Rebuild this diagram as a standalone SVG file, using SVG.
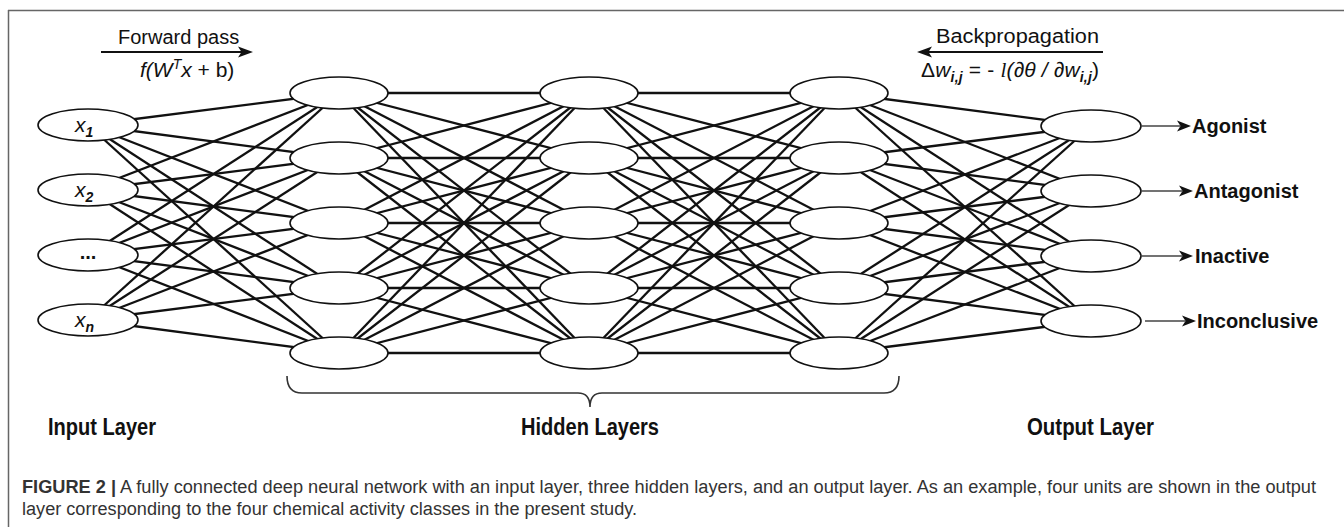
<svg xmlns="http://www.w3.org/2000/svg" width="1344" height="527" viewBox="0 0 1344 527">
<style>
.n{fill:#fff;stroke:#111;stroke-width:1.6}
.c line{stroke:#111;stroke-width:2.3}
.t{font-family:"Liberation Sans",Arial,sans-serif;fill:#111}
.lab{font-family:"Liberation Sans",Arial,sans-serif;font-size:20px;font-weight:bold;fill:#111}
.lay{font-family:"Liberation Sans",Arial,sans-serif;font-size:23px;font-weight:bold;fill:#111}
.var{font-family:"Liberation Sans",Arial,sans-serif;font-size:21px;font-style:italic;fill:#111}
.sub{font-size:14px;font-weight:bold}
.cap{font-family:"Liberation Sans",Arial,sans-serif;font-size:18px;fill:#333}
.ol{stroke:#444;stroke-width:1.6}
.ah{fill:#111}
</style>
<rect width="1344" height="527" fill="#fff"/>
<g id="frame" fill="none" stroke="#666" stroke-width="1.5">
<line x1="8" y1="10.5" x2="1344" y2="10.5"/>
<line x1="8.5" y1="10" x2="8.5" y2="527"/>
</g>
<g id="forward-pass">
<text class="t" x="118" y="44" font-size="20">Forward pass</text>
<line x1="101" y1="52" x2="242" y2="52" stroke="#111" stroke-width="2"/>
<polygon class="ah" points="253,52 238,46.5 241.5,52 238,57.5"/>
<text class="t" x="140" y="77" font-size="21"><tspan font-style="italic">f(W</tspan><tspan font-style="italic" font-size="14" dy="-8">T</tspan><tspan font-style="italic" dy="8">x</tspan> + b)</text>
</g>
<g id="backpropagation">
<text class="t" x="936" y="43" font-size="20" textLength="163" lengthAdjust="spacingAndGlyphs">Backpropagation</text>
<line x1="1103" y1="52" x2="928" y2="52" stroke="#111" stroke-width="2"/>
<polygon class="ah" points="917,52 932,46.5 928.5,52 932,57.5"/>
<text class="t" x="921" y="77" font-size="21" textLength="178" lengthAdjust="spacing">Δ<tspan font-style="italic">w</tspan><tspan font-style="italic" font-weight="bold" font-size="14" dy="5">i,j</tspan><tspan dy="-5"> = - </tspan><tspan font-style="italic" font-family="Liberation Serif, serif">l</tspan><tspan font-style="italic">(∂θ / ∂w</tspan><tspan font-style="italic" font-weight="bold" font-size="14" dy="5">i,j</tspan><tspan dy="-5">)</tspan></text>
</g>
<g id="connectors" class="c">
<line x1="88" y1="125" x2="339" y2="93"/><line x1="88" y1="125" x2="339" y2="158"/><line x1="88" y1="125" x2="339" y2="223"/><line x1="88" y1="125" x2="339" y2="288"/><line x1="88" y1="125" x2="339" y2="353"/>
<line x1="88" y1="190" x2="339" y2="93"/><line x1="88" y1="190" x2="339" y2="158"/><line x1="88" y1="190" x2="339" y2="223"/><line x1="88" y1="190" x2="339" y2="288"/><line x1="88" y1="190" x2="339" y2="353"/>
<line x1="88" y1="255" x2="339" y2="93"/><line x1="88" y1="255" x2="339" y2="158"/><line x1="88" y1="255" x2="339" y2="223"/><line x1="88" y1="255" x2="339" y2="288"/><line x1="88" y1="255" x2="339" y2="353"/>
<line x1="88" y1="320" x2="339" y2="93"/><line x1="88" y1="320" x2="339" y2="158"/><line x1="88" y1="320" x2="339" y2="223"/><line x1="88" y1="320" x2="339" y2="288"/><line x1="88" y1="320" x2="339" y2="353"/>
<line x1="339" y1="93" x2="589" y2="93"/><line x1="339" y1="93" x2="589" y2="158"/><line x1="339" y1="93" x2="589" y2="223"/><line x1="339" y1="93" x2="589" y2="288"/><line x1="339" y1="93" x2="589" y2="353"/>
<line x1="339" y1="158" x2="589" y2="93"/><line x1="339" y1="158" x2="589" y2="158"/><line x1="339" y1="158" x2="589" y2="223"/><line x1="339" y1="158" x2="589" y2="288"/><line x1="339" y1="158" x2="589" y2="353"/>
<line x1="339" y1="223" x2="589" y2="93"/><line x1="339" y1="223" x2="589" y2="158"/><line x1="339" y1="223" x2="589" y2="223"/><line x1="339" y1="223" x2="589" y2="288"/><line x1="339" y1="223" x2="589" y2="353"/>
<line x1="339" y1="288" x2="589" y2="93"/><line x1="339" y1="288" x2="589" y2="158"/><line x1="339" y1="288" x2="589" y2="223"/><line x1="339" y1="288" x2="589" y2="288"/><line x1="339" y1="288" x2="589" y2="353"/>
<line x1="339" y1="353" x2="589" y2="93"/><line x1="339" y1="353" x2="589" y2="158"/><line x1="339" y1="353" x2="589" y2="223"/><line x1="339" y1="353" x2="589" y2="288"/><line x1="339" y1="353" x2="589" y2="353"/>
<line x1="589" y1="93" x2="839" y2="93"/><line x1="589" y1="93" x2="839" y2="158"/><line x1="589" y1="93" x2="839" y2="223"/><line x1="589" y1="93" x2="839" y2="288"/><line x1="589" y1="93" x2="839" y2="353"/>
<line x1="589" y1="158" x2="839" y2="93"/><line x1="589" y1="158" x2="839" y2="158"/><line x1="589" y1="158" x2="839" y2="223"/><line x1="589" y1="158" x2="839" y2="288"/><line x1="589" y1="158" x2="839" y2="353"/>
<line x1="589" y1="223" x2="839" y2="93"/><line x1="589" y1="223" x2="839" y2="158"/><line x1="589" y1="223" x2="839" y2="223"/><line x1="589" y1="223" x2="839" y2="288"/><line x1="589" y1="223" x2="839" y2="353"/>
<line x1="589" y1="288" x2="839" y2="93"/><line x1="589" y1="288" x2="839" y2="158"/><line x1="589" y1="288" x2="839" y2="223"/><line x1="589" y1="288" x2="839" y2="288"/><line x1="589" y1="288" x2="839" y2="353"/>
<line x1="589" y1="353" x2="839" y2="93"/><line x1="589" y1="353" x2="839" y2="158"/><line x1="589" y1="353" x2="839" y2="223"/><line x1="589" y1="353" x2="839" y2="288"/><line x1="589" y1="353" x2="839" y2="353"/>
<line x1="839" y1="93" x2="1091" y2="126"/><line x1="839" y1="93" x2="1091" y2="191"/><line x1="839" y1="93" x2="1091" y2="256"/><line x1="839" y1="93" x2="1091" y2="321"/>
<line x1="839" y1="158" x2="1091" y2="126"/><line x1="839" y1="158" x2="1091" y2="191"/><line x1="839" y1="158" x2="1091" y2="256"/><line x1="839" y1="158" x2="1091" y2="321"/>
<line x1="839" y1="223" x2="1091" y2="126"/><line x1="839" y1="223" x2="1091" y2="191"/><line x1="839" y1="223" x2="1091" y2="256"/><line x1="839" y1="223" x2="1091" y2="321"/>
<line x1="839" y1="288" x2="1091" y2="126"/><line x1="839" y1="288" x2="1091" y2="191"/><line x1="839" y1="288" x2="1091" y2="256"/><line x1="839" y1="288" x2="1091" y2="321"/>
<line x1="839" y1="353" x2="1091" y2="126"/><line x1="839" y1="353" x2="1091" y2="191"/><line x1="839" y1="353" x2="1091" y2="256"/><line x1="839" y1="353" x2="1091" y2="321"/>
</g>
<g id="in1"><ellipse class="n" cx="88" cy="125" rx="50" ry="16"/><text class="var" x="75" y="132">x<tspan class="sub" dy="5">1</tspan></text></g>
<g id="in2"><ellipse class="n" cx="88" cy="190" rx="50" ry="16"/><text class="var" x="75" y="197">x<tspan class="sub" dy="5">2</tspan></text></g>
<g id="in3"><ellipse class="n" cx="88" cy="255" rx="50" ry="16"/><text class="lab" x="88" y="259" font-size="16" text-anchor="middle">...</text></g>
<g id="in4"><ellipse class="n" cx="88" cy="320" rx="50" ry="16"/><text class="var" x="75" y="327">x<tspan class="sub" dy="5">n</tspan></text></g>
<g id="h1-1"><ellipse class="n" cx="339" cy="93" rx="49" ry="16"/></g>
<g id="h1-2"><ellipse class="n" cx="339" cy="158" rx="49" ry="16"/></g>
<g id="h1-3"><ellipse class="n" cx="339" cy="223" rx="49" ry="16"/></g>
<g id="h1-4"><ellipse class="n" cx="339" cy="288" rx="49" ry="16"/></g>
<g id="h1-5"><ellipse class="n" cx="339" cy="353" rx="49" ry="16"/></g>
<g id="h2-1"><ellipse class="n" cx="589" cy="93" rx="49" ry="16"/></g>
<g id="h2-2"><ellipse class="n" cx="589" cy="158" rx="49" ry="16"/></g>
<g id="h2-3"><ellipse class="n" cx="589" cy="223" rx="49" ry="16"/></g>
<g id="h2-4"><ellipse class="n" cx="589" cy="288" rx="49" ry="16"/></g>
<g id="h2-5"><ellipse class="n" cx="589" cy="353" rx="49" ry="16"/></g>
<g id="h3-1"><ellipse class="n" cx="839" cy="93" rx="49" ry="16"/></g>
<g id="h3-2"><ellipse class="n" cx="839" cy="158" rx="49" ry="16"/></g>
<g id="h3-3"><ellipse class="n" cx="839" cy="223" rx="49" ry="16"/></g>
<g id="h3-4"><ellipse class="n" cx="839" cy="288" rx="49" ry="16"/></g>
<g id="h3-5"><ellipse class="n" cx="839" cy="353" rx="49" ry="16"/></g>
<g id="out1"><ellipse class="n" cx="1091" cy="126" rx="50" ry="16"/><line class="ol" x1="1141" y1="126" x2="1180" y2="126"/><polygon class="ah" points="1191,126 1177,120.5 1180.5,126 1177,131.5"/><text class="lab" x="1192" y="133">Agonist</text></g>
<g id="out2"><ellipse class="n" cx="1091" cy="191" rx="50" ry="16"/><line class="ol" x1="1141" y1="191" x2="1182" y2="191"/><polygon class="ah" points="1193,191 1179,185.5 1182.5,191 1179,196.5"/><text class="lab" x="1194" y="198">Antagonist</text></g>
<g id="out3"><ellipse class="n" cx="1091" cy="256" rx="50" ry="16"/><line class="ol" x1="1141" y1="256" x2="1182" y2="256"/><polygon class="ah" points="1193,256 1179,250.5 1182.5,256 1179,261.5"/><text class="lab" x="1195" y="263">Inactive</text></g>
<g id="out4"><ellipse class="n" cx="1091" cy="321" rx="50" ry="16"/><line class="ol" x1="1145" y1="321" x2="1185" y2="321"/><polygon class="ah" points="1196,321 1182,315.5 1185.5,321 1182,326.5"/><text class="lab" x="1197" y="328">Inconclusive</text></g>
<g id="brace"><path d="M287,376 Q287,393 302,393 L578,393 Q590,393 590,407 Q590,393 602,393 L884,393 Q899,393 899,376" fill="none" stroke="#333" stroke-width="1.6"/></g>
<g id="layer-labels">
<text class="lay" x="48" y="435" textLength="108" lengthAdjust="spacingAndGlyphs">Input Layer</text>
<text class="lay" x="521" y="435" textLength="138" lengthAdjust="spacingAndGlyphs">Hidden Layers</text>
<text class="lay" x="1027" y="435" textLength="127" lengthAdjust="spacingAndGlyphs">Output Layer</text>
</g>
<g id="caption">
<text class="cap" x="22" y="493" textLength="1294" lengthAdjust="spacingAndGlyphs"><tspan font-weight="bold">FIGURE 2 |</tspan> A fully connected deep neural network with an input layer, three hidden layers, and an output layer. As an example, four units are shown in the output</text>
<text class="cap" x="22" y="515" textLength="615" lengthAdjust="spacingAndGlyphs">layer corresponding to the four chemical activity classes in the present study.</text>
</g>
</svg>
